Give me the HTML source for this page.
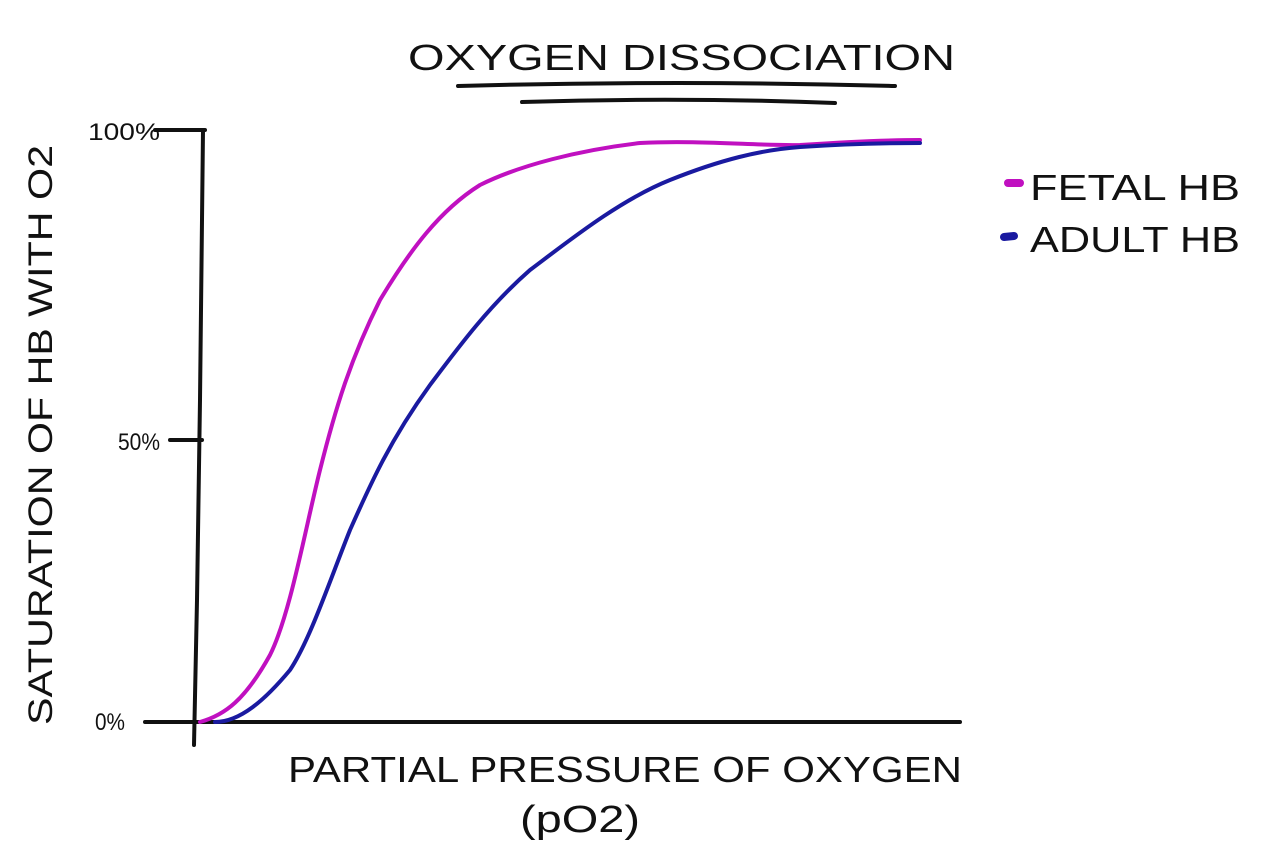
<!DOCTYPE html>
<html><head><meta charset="utf-8"><style>
html,body{margin:0;padding:0;background:#fff;}
svg{display:block;}
text{font-family:"Liberation Sans",sans-serif;fill:#111;}
</style></head><body>
<svg width="1261" height="863" viewBox="0 0 1261 863" xmlns="http://www.w3.org/2000/svg">
<text x="408" y="70" font-size="36" textLength="547" lengthAdjust="spacingAndGlyphs">OXYGEN DISSOCIATION</text>
<path d="M458 86 Q680 80 895 86" stroke="#111" stroke-width="4" fill="none" stroke-linecap="round"/>
<path d="M522 102 Q680 97 835 103" stroke="#111" stroke-width="4" fill="none" stroke-linecap="round"/>
<path d="M203 130 L200 400 L197 600 L194 745" stroke="#111" stroke-width="4" fill="none" stroke-linecap="round"/>
<path d="M145 722 L960 722" stroke="#111" stroke-width="4" fill="none" stroke-linecap="round"/>
<path d="M155 130 L205 130" stroke="#111" stroke-width="4" stroke-linecap="round"/>
<path d="M170 440 L202 440" stroke="#111" stroke-width="4" stroke-linecap="round"/>
<text x="88" y="140" font-size="24" textLength="72" lengthAdjust="spacingAndGlyphs">100%</text>
<text x="118" y="450" font-size="24" textLength="42" lengthAdjust="spacingAndGlyphs">50%</text>
<text x="95" y="730" font-size="24" textLength="30" lengthAdjust="spacingAndGlyphs">0%</text>
<text transform="translate(52,725) rotate(-90)" font-size="34" textLength="580" lengthAdjust="spacingAndGlyphs">SATURATION OF HB WITH O2</text>
<text x="288" y="782" font-size="36" textLength="674" lengthAdjust="spacingAndGlyphs">PARTIAL PRESSURE OF OXYGEN</text>
<text x="520" y="832" font-size="38" textLength="120" lengthAdjust="spacingAndGlyphs">(pO2)</text>
<path d="M200 722 C225 715 245 700 270 655 C290 615 305 530 320 470 C335 410 350 360 380 300 C410 250 440 210 480 185 C520 165 580 150 640 143 C700 140 760 146 800 145 C860 141 900 140 920 140" stroke="#c010c0" stroke-width="4" fill="none" stroke-linecap="round"/>
<path d="M215 722 C240 722 265 700 290 670 C310 640 330 580 350 530 C370 485 390 440 430 385 C460 345 490 305 530 270 C570 240 620 200 670 180 C720 160 760 150 800 147 C860 143 900 143 920 143" stroke="#1a1aa0" stroke-width="4" fill="none" stroke-linecap="round"/>
<path d="M1008 183 L1020 183" stroke="#c010c0" stroke-width="8" stroke-linecap="round"/>
<path d="M1004 237 L1014 236" stroke="#1a1aa0" stroke-width="8" stroke-linecap="round"/>
<text x="1030" y="200" font-size="36" textLength="210" lengthAdjust="spacingAndGlyphs">FETAL HB</text>
<text x="1030" y="252" font-size="36" textLength="210" lengthAdjust="spacingAndGlyphs">ADULT HB</text>
</svg>
</body></html>
